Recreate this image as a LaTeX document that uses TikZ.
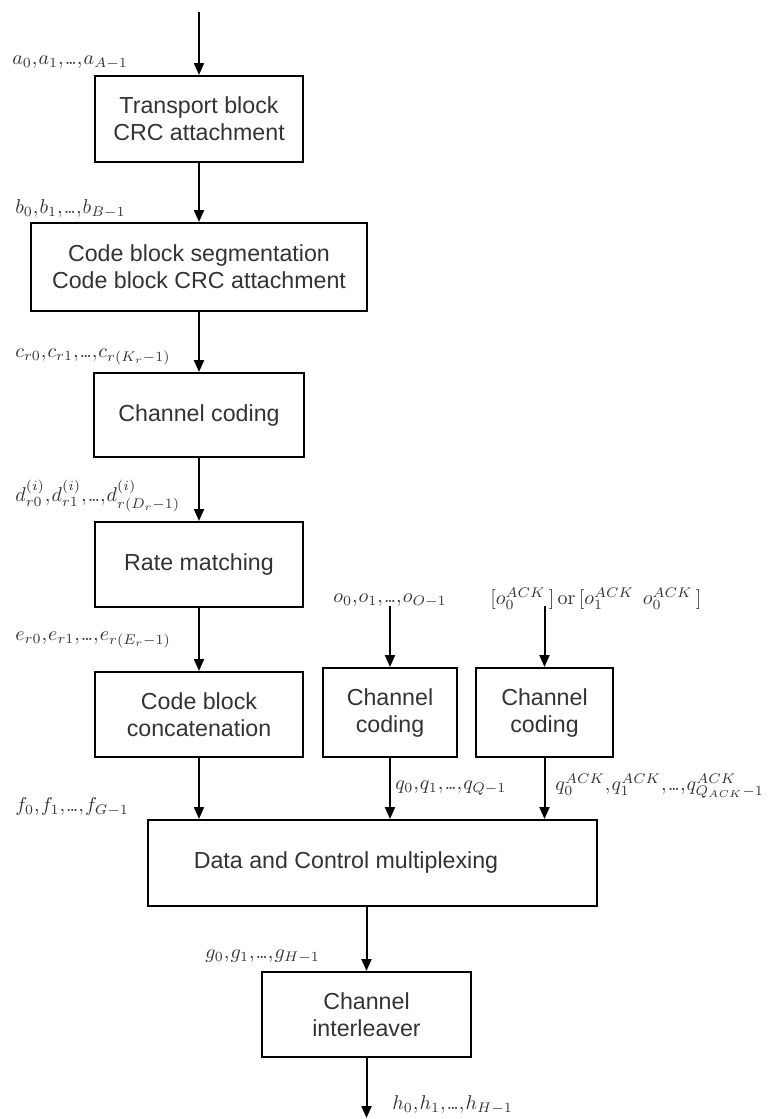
\documentclass[tikz,border=0pt]{standalone}
\usepackage[no-math]{fontspec}
\setmainfont{Liberation Sans}
\usetikzlibrary{arrows.meta}
% compact separators for the bit sequence labels
\newcommand{\sep}{{,}\mkern1mu}
\newcommand{\dts}{{,}\mkern1mu{\ldotp}\mkern-2mu{\ldotp}\mkern-2mu{\ldotp}{,}\mkern1mu}
\begin{document}
\begin{tikzpicture}[x=0.5pt,y=-0.5pt,
  stepbox/.style={draw, line width=1pt, inner sep=0pt,
    font=\fontsize{11.6}{13.5}\selectfont, text=black!80, align=center},
  boxtext/.style={inner sep=0pt, font=\fontsize{11.6}{13.5}\selectfont, text=black!80},
  lbl/.style={inner sep=0pt, font=\fontsize{10}{12}\selectfont, text=black!80, anchor=west},
  flow/.style={draw, line width=1pt, -{Triangle[length=6pt,width=5pt]}}]
\useasboundingbox (0,0) rectangle (771,1119);

% processing chain for the data part
\node[stepbox, minimum width=104pt, minimum height=43pt] (tbcrc) at (199,119) {Transport block\\CRC attachment};
\node[stepbox, minimum width=168pt, minimum height=44pt] (cbseg) at (199,267) {Code block segmentation\\Code block CRC attachment};
\node[stepbox, minimum width=105pt, minimum height=42pt] (chcod) at (199,415) {Channel coding};
\node[stepbox, minimum width=104pt, minimum height=42.5pt] (ratem) at (199,564.5) {Rate matching};
\node[stepbox, minimum width=104pt, minimum height=42.5pt] (cbcat) at (199,714.5) {Code block\\concatenation};

% control information coding
\node[stepbox, minimum width=67pt, minimum height=44.5pt] (ccdat) at (390,712.5) {Channel\\coding};
\node[stepbox, minimum width=68.5pt, minimum height=44.5pt] (ccack) at (544.5,712.5) {Channel\\coding};

% multiplexing and interleaving
\node[stepbox, minimum width=224.5pt, minimum height=43pt] (mux) at (372.5,863) {};
\node[boxtext] (muxtext) at (346,862) {Data and Control multiplexing};
\node[stepbox, minimum width=104.5pt, minimum height=42.5pt] (ilv) at (366.5,1014.5) {Channel\\interleaver};

% free ends
\coordinate (in) at (199,12);
\coordinate (odat) at (390,606);
\coordinate (oack) at (544.5,606);
\coordinate (out) at (366.5,1118);

% connectors
\draw[flow] (in) -- (tbcrc.north);
\draw[flow] (tbcrc.south) -- (cbseg.north);
\draw[flow] (cbseg.south) -- (chcod.north);
\draw[flow] (chcod.south) -- (ratem.north);
\draw[flow] (ratem.south) -- (cbcat.north);
\draw[flow] (odat) -- (ccdat.north);
\draw[flow] (oack) -- (ccack.north);
\draw[flow] (cbcat.south) -- (cbcat.south |- mux.north);
\draw[flow] (ccdat.south) -- (ccdat.south |- mux.north);
\draw[flow] (ccack.south) -- (ccack.south |- mux.north);
\draw[flow] (ilv.north |- mux.south) -- (ilv.north);
\draw[flow] (ilv.south) -- (out);

% bit sequence labels
\node[lbl] (la) at (12,63) {$a_0\sep a_1\dts a_{A-1}$};
\node[lbl] (lb) at (15,209) {$b_0\sep b_1\dts b_{B-1}$};
\node[lbl] (lc) at (15,357) {$c_{r0}\sep c_{r1}\dts c_{r(K_r-1)}$};
\node[lbl] (ld) at (15,496) {$d^{(i)}_{r0}\sep d^{(i)}_{r1}\dts d^{(i)}_{r(D_r-1)}$};
\node[lbl] (le) at (15,640) {$e_{r0}\sep e_{r1}\dts e_{r(E_r-1)}$};
\node[lbl] (lf) at (15,807) {$f_0\sep f_1\dts f_{G-1}$};
\node[lbl] (lo) at (333,601) {$o_0\sep o_1\dts o_{O-1}$};
\node[lbl] (lack) at (490,599) {$[o_0^{ACK}\,]\mathrm{\,or\,}[o_1^{ACK}\;\,o_0^{ACK}\,]$};
\node[lbl] (lq) at (395,788) {$q_0\sep q_1\dts q_{Q-1}$};
\node[lbl] (lqack) at (555,786) {$q_0^{ACK}\sep q_1^{ACK}\dts q_{Q_{ACK}-1}^{ACK}$};
\node[lbl] (lg) at (205,957) {$g_0\sep g_1\dts g_{H-1}$};
\node[lbl] (lh) at (392,1105) {$h_0\sep h_1\dts h_{H-1}$};
\end{tikzpicture}
\end{document}
